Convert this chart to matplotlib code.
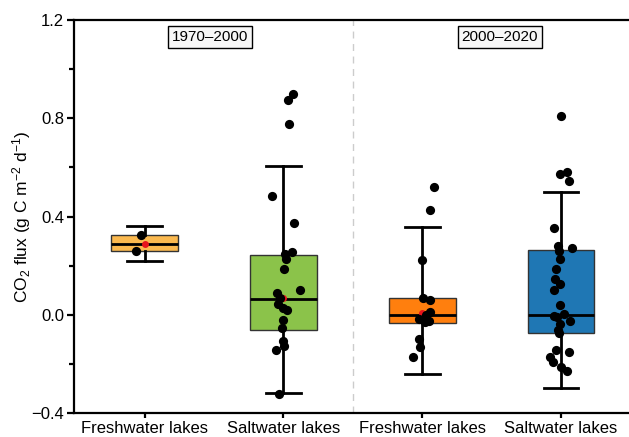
import matplotlib
matplotlib.use('Agg')
import matplotlib.pyplot as plt

plt.rcParams['font.family'] = ['Liberation Sans', 'DejaVu Sans']
plt.rcParams['mathtext.fontset'] = 'custom'
plt.rcParams['mathtext.rm'] = 'Liberation Sans'
plt.rcParams['mathtext.it'] = 'Liberation Sans:italic'

categories = ['Freshwater lakes', 'Saltwater lakes', 'Freshwater lakes', 'Saltwater lakes']
periods = ['1970\u20132000', '2000\u20132020']
colors = ['#FBB94F', '#8BC34A', '#FF7F0E', '#1F77B4']

# box statistics
q1 = [0.258, -0.064, -0.032, -0.073]
med = [0.290, 0.064, -0.001, -0.002]
q3 = [0.324, 0.245, 0.070, 0.264]
whislo = [0.219, -0.319, -0.240, -0.298]
whishi = [0.362, 0.606, 0.358, 0.498]
means = [0.290, 0.067, 0.008, 0.040]

# individual lakes (value, jitter offset)
fresh_old = [0.324, 0.258]
fresh_old_jit = [-0.03, -0.06]
salt_old = [0.90, 0.875, 0.775, 0.482, 0.373, 0.256, 0.246, 0.226, 0.185, 0.10, 0.088,
            0.070, 0.043, 0.029, 0.018, -0.021, -0.056, -0.107, -0.127, -0.145, -0.321]
salt_old_jit = [0.065, 0.033, 0.04, -0.084, 0.077, 0.06, 0.012, 0.017, 0.004, 0.12, -0.048,
                -0.025, -0.039, -0.007, 0.024, 0.0, -0.012, -0.007, 0.004, -0.056, -0.032]
fresh_new = [0.521, 0.427, 0.222, 0.070, 0.059, 0.013, -0.001, -0.018, -0.029, -0.025,
             -0.100, -0.131, -0.174]
fresh_new_jit = [0.084, 0.058, -0.002, 0.005, 0.053, 0.058, 0.029, -0.027, 0.017, 0.048,
                 -0.024, -0.019, -0.067]
salt_new = [0.81, 0.582, 0.573, 0.545, 0.352, 0.278, 0.271, 0.260, 0.226, 0.188, 0.145,
            0.127, 0.100, 0.040, 0.002, -0.005, -0.011, -0.025, -0.039, -0.062, -0.075,
            -0.143, -0.150, -0.172, -0.191, -0.211, -0.231]
salt_new_jit = [0.0, 0.043, -0.005, 0.06, -0.048, -0.025, 0.079, -0.017, -0.005, -0.034, -0.046,
                -0.01, -0.048, -0.005, 0.019, -0.048, -0.029, 0.062, -0.005, -0.025, -0.017,
                -0.036, 0.06, -0.077, -0.061, 0.002, 0.043]

points = [fresh_old, salt_old, fresh_new, salt_new]
jitters = [fresh_old_jit, salt_old_jit, fresh_new_jit, salt_new_jit]
positions = [0, 1, 2, 3]

fig = plt.figure(figsize=(6.29, 4.37), dpi=100)
ax = fig.add_axes([0.1176, 0.055, 0.8824, 0.899])

stats = []
for i in range(4):
    stats.append({'q1': q1[i], 'med': med[i], 'q3': q3[i], 'whislo': whislo[i],
                  'whishi': whishi[i], 'mean': means[i], 'fliers': []})

bp = ax.bxp(stats, positions=positions, widths=0.48, patch_artist=True, showmeans=True,
            boxprops=dict(edgecolor='#333333', linewidth=1),
            medianprops=dict(color='black', linewidth=2),
            whiskerprops=dict(color='black', linewidth=2),
            capprops=dict(color='black', linewidth=2),
            capwidths=0.25,
            meanprops=dict(marker='o', markerfacecolor='#E8141C', markeredgecolor='none',
                           markersize=5))
for patch, c in zip(bp['boxes'], colors):
    patch.set_facecolor(c)

for pos, vals, jit in zip(positions, points, jitters):
    xs = [pos + j for j in jit]
    ax.scatter(xs, vals, s=44, color='black', zorder=4, linewidths=0)

ax.axvline(1.5, color='#cccccc', linestyle=(0, (5, 4)), linewidth=1, zorder=0)

ax.text(0.47, 1.131, periods[0], fontsize=11, ha='center', va='center',
        bbox=dict(boxstyle='square,pad=0.25', facecolor='#f7f7f7', edgecolor='black', linewidth=1))
ax.text(2.56, 1.131, periods[1], fontsize=11, ha='center', va='center',
        bbox=dict(boxstyle='square,pad=0.25', facecolor='#f7f7f7', edgecolor='black', linewidth=1))

ax.set_xlim(-0.51, 3.49)
ax.set_ylim(-0.4, 1.2)
ax.set_yticks([-0.4, 0.0, 0.4, 0.8, 1.2])
ax.set_yticklabels(['\u22120.4', '0.0', '0.4', '0.8', '1.2'])
ax.set_yticks([-0.2, 0.2, 0.6, 1.0], minor=True)
ax.set_xticks(positions)
ax.set_xticklabels(categories)
ax.set_ylabel('CO$_2$ flux (g C m$^{-2}$ d$^{-1}$)', fontsize=12.5, labelpad=-1)

ax.spines['right'].set_visible(False)
for s in ['left', 'top', 'bottom']:
    ax.spines[s].set_linewidth(1.6)
ax.tick_params(axis='y', which='major', length=5, width=1.6, labelsize=12, pad=2)
ax.tick_params(axis='y', which='minor', length=3.5, width=1.6)
ax.tick_params(axis='x', which='major', length=3.5, width=1.6, labelsize=12, pad=2)

fig.savefig('out.png', dpi=100)
